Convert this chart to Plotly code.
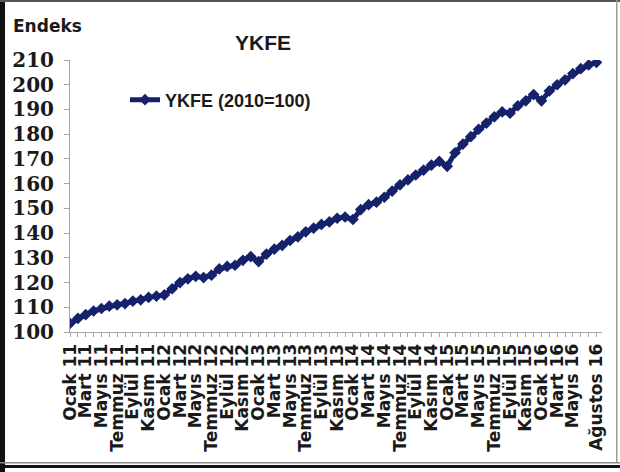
import plotly.graph_objects as go

# Monthly new-dwelling price index (YKFE, 2010=100), Ocak 2011 - Ağustos 2016
month_names = ["Ocak", "Şubat", "Mart", "Nisan", "Mayıs", "Haziran",
               "Temmuz", "Ağustos", "Eylül", "Ekim", "Kasım", "Aralık"]
years = ["11", "12", "13", "14", "15", "16"]

ykfe = [
    103.5, 105.5, 107.0, 108.5, 109.5, 110.5, 111.0, 111.5, 112.5, 113.0, 114.0, 114.5,   # 2011
    115.0, 117.5, 120.0, 121.5, 122.5, 122.0, 123.0, 125.5, 126.5, 127.0, 129.0, 130.5,   # 2012
    128.5, 131.5, 133.5, 135.0, 137.0, 138.5, 140.5, 142.0, 143.5, 144.5, 146.0, 146.5,   # 2013
    145.5, 149.5, 151.5, 152.5, 154.5, 157.0, 159.5, 161.5, 163.5, 165.5, 167.5, 169.0,   # 2014
    167.0, 172.5, 176.0, 179.0, 182.0, 184.5, 187.0, 189.0, 188.5, 191.5, 193.5, 196.0,   # 2015
    193.5, 197.5, 200.0, 202.0, 204.5, 206.5, 208.0, 209.0,                               # 2016
]

categories = [f"{m} {y}" for y in years for m in month_names][:len(ykfe)]
labelled = list(range(0, 65, 2)) + [67]          # categories that carry a tick label
y_ticks = [100, 110, 120, 130, 140, 150, 160, 170, 180, 190, 200, 210]

# page geometry (px)
W_PX, H_PX = 620, 472
L, R, T, B = 70, 18, 60, 140
PW, PH = W_PX - L - R, H_PX - T - B


def px_x(px):
    return (px - L) / PW


def px_y(py):
    return (H_PX - B - py) / PH


navy = "#15216a"
x_idx = list(range(len(ykfe)))

fig = go.Figure()
fig.add_trace(go.Scatter(
    x=x_idx, y=ykfe, mode="lines+markers", name="YKFE (2010=100)",
    line=dict(color=navy, width=5),
    marker=dict(symbol="diamond", size=9, color=navy),
))

fig.update_layout(
    width=W_PX, height=H_PX,
    margin=dict(l=L, r=R, t=T, b=B, autoexpand=False),
    paper_bgcolor="white", plot_bgcolor="white",
    showlegend=True,
    legend=dict(x=px_x(125), y=px_y(100), xanchor="left", yanchor="middle",
                bgcolor="rgba(0,0,0,0)",
                font=dict(family="Liberation Sans", size=18, color="#1a1a1a",
                          weight="bold")),
    xaxis=dict(
        range=[0, 67.7], tickmode="array", tickvals=x_idx,
        ticktext=[categories[i] if i in labelled else "" for i in x_idx],
        tickangle=-90, ticks="outside", ticklen=4, tickcolor="#a6a6a6",
        showline=True, linecolor="#a6a6a6", linewidth=1, showgrid=False,
        zeroline=False,
        tickfont=dict(family="DejaVu Sans", size=17, color="#1a1a1a", weight="bold"),
    ),
    yaxis=dict(
        range=[100, 210], tickmode="array", tickvals=y_ticks,
        ticks="outside", ticklen=5, tickcolor="#a6a6a6",
        showline=True, linecolor="#a6a6a6", linewidth=1, showgrid=False,
        zeroline=False, ticklabelstandoff=6,
        tickfont=dict(family="DejaVu Serif", size=20, color="#1a1a1a", weight="bold"),
    ),
)

fig.add_annotation(text="Endeks", xref="paper", yref="paper",
                   x=px_x(11), y=px_y(26), xanchor="left", yanchor="middle",
                   showarrow=False,
                   font=dict(family="DejaVu Sans", size=17, color="#1a1a1a", weight="bold"))
fig.add_annotation(text="YKFE", xref="paper", yref="paper",
                   x=px_x(263), y=px_y(42), xanchor="center", yanchor="middle",
                   showarrow=False,
                   font=dict(family="Liberation Sans", size=21, color="#1a1a1a", weight="bold"))

# outer frame around the chart
frame = [
    (0, 0, 5, H_PX, "#111111"),          # left bar
    (0, 0, W_PX, 2, "#555555"),          # top line
    (0, 462, W_PX, 463.5, "#888888"),    # bottom double line
    (0, 465, W_PX, 468, "#111111"),
    (616, 0, 617.5, 462, "#9a9a9a"),     # right line
]
for x0, y0, x1, y1, c in frame:
    fig.add_shape(type="rect", xref="paper", yref="paper",
                  x0=px_x(x0), x1=px_x(x1), y0=px_y(y0), y1=px_y(y1),
                  line=dict(width=0), fillcolor=c, layer="above")

fig.write_html("out.html")
